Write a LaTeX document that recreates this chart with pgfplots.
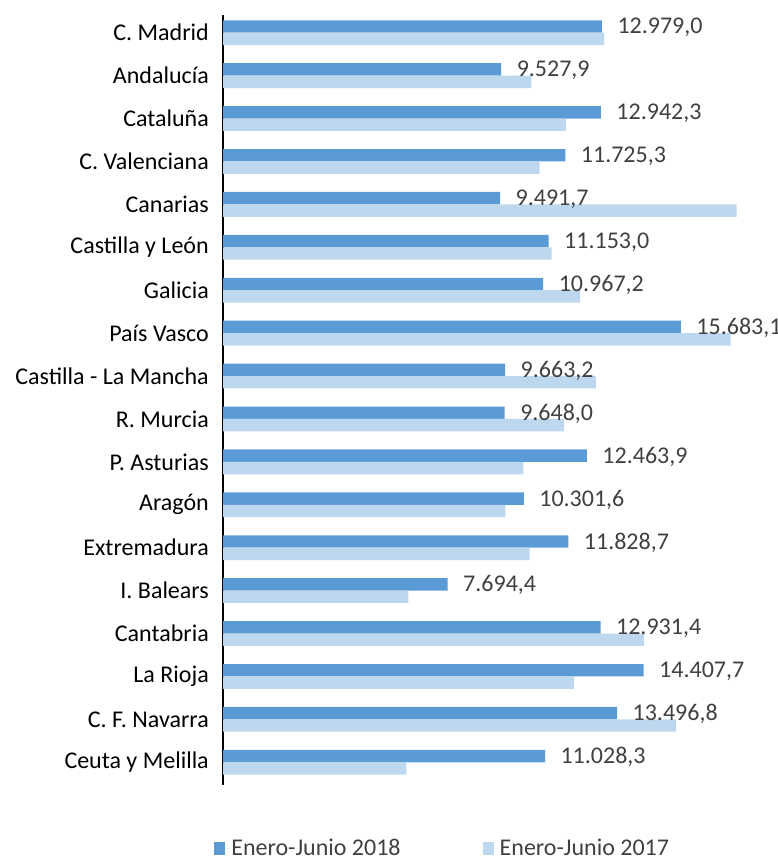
\documentclass[border=0pt]{standalone}
\usepackage{fontspec}
\setmainfont{Carlito}
\usepackage{pgfplots}
\usepackage{pgfplotstable}
\pgfplotsset{compat=1.18}

\definecolor{dark}{HTML}{5B9BD5}
\definecolor{light}{HTML}{BDD7EE}
\definecolor{vals}{HTML}{404040}

% y = posicion (C. Madrid arriba), x18 = Enero-Junio 2018, x17 = Enero-Junio 2017
\pgfplotstableread{
y  x18      x17
17 12979.0  13050
16 9527.9   10560
15 12942.3  11740
14 11725.3  10840
13 9491.7   17590
12 11153.0  11250
11 10967.2  12230
10 15683.1  17380
9  9663.2   12770
8  9648.0   11680
7  12463.9  10290
6  10301.6  9670
5  11828.7  10500
4  7694.4   6350
3  12931.4  14420
2  14407.7  12020
1  13496.8  15510
0  11028.3  6280
}\datos

\begin{document}
\begin{tikzpicture}
\useasboundingbox (0,0) rectangle (778pt,861pt);
\begin{axis}[
  at={(223pt,76pt)}, anchor=south west,
  scale only axis,
  width=525.6pt, height=770pt,
  xbar, bar width=12.4pt,
  xmin=0, xmax=18000,
  ymin=-0.53, ymax=17.413,
  axis x line=none,
  axis y line*=left,
  axis line style={-, line width=1.2pt, black},
  ytick={0,...,17},
  yticklabels={Ceuta y Melilla, C. F. Navarra, La Rioja, Cantabria, I. Balears,
    Extremadura, Aragón, P. Asturias, R. Murcia, Castilla - La Mancha, País Vasco,
    Galicia, Castilla y León, Canarias, C. Valenciana, Cataluña, Andalucía, C. Madrid},
  major tick length=0pt,
  yticklabel style={font=\fontsize{24}{28}\selectfont, inner sep=0pt, xshift=-14pt},
  legend style={at={(0.418,-0.082)}, anchor=center, draw=none, fill=none,
    legend columns=2, font=\fontsize{24}{28}\selectfont, text=vals,
    /tikz/every even column/.append style={column sep=80pt}},
  legend image code/.code={\fill[#1] (0pt,-6.5pt) rectangle (11pt,6.5pt);
    \path (0pt,0pt) -- (15pt,0pt);},
]
\addplot[fill=dark, draw=none, bar shift=6.2pt,
  nodes near coords, point meta=x,
  every node near coord/.append style={anchor=west, xshift=12pt, yshift=-1pt, text=vals,
    font=\fontsize{24}{28}\selectfont,
    /pgf/number format/.cd, fixed, fixed zerofill, precision=1,
    use comma, 1000 sep={.}, assume math mode=true}]
  table[x=x18, y=y] {\datos};
\addlegendentry{Enero-Junio 2018}
\addplot[fill=light, draw=none, bar shift=-6.2pt]
  table[x=x17, y=y] {\datos};
\addlegendentry{Enero-Junio 2017}
\end{axis}
\end{tikzpicture}
\end{document}
